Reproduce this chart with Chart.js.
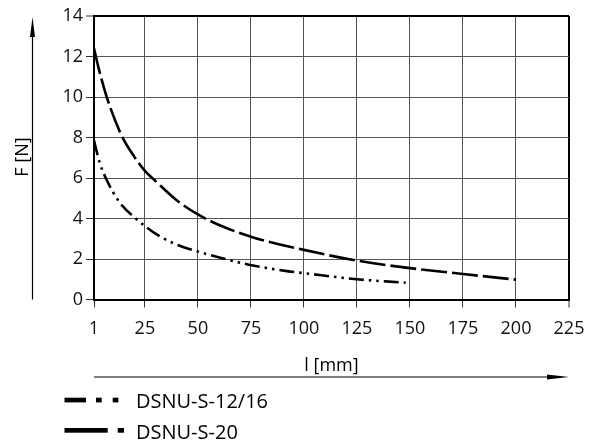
<!DOCTYPE html>
<html>
<head>
<meta charset="utf-8">
<script src="https://cdn.jsdelivr.net/npm/chart.js@4.4.1/dist/chart.umd.min.js"></script>
<style>
  html, body { margin: 0; padding: 0; background: #fff; }
  #wrap { width: 592px; height: 443px; }
</style>
</head>
<body>
<div id="wrap"><canvas id="forceChart" width="592" height="443"></canvas></div>
<script>
// values
const seriesNames = ["DSNU-S-12/16", "DSNU-S-20"];

const len12 = [1, 2.3, 3.8, 7, 12.9, 22.4, 30, 38, 49, 63, 74, 92, 100, 125, 148];
const force12 = [7.85, 7.3, 6.72, 5.9, 4.82, 3.85, 3.25, 2.8, 2.4, 2.0, 1.72, 1.4, 1.3, 1.0, 0.83];

const len20 = [1, 3, 7, 14, 20, 25, 30, 40, 50, 60, 75, 100, 125, 150, 175, 200];
const force20 = [12.4, 11.5, 10.0, 8.1, 7.05, 6.35, 5.85, 4.9, 4.2, 3.68, 3.1, 2.45, 1.92, 1.55, 1.26, 0.98];

const xTicks = [1, 25, 50, 75, 100, 125, 150, 175, 200, 225];
const yTicks = [0, 2, 4, 6, 8, 10, 12, 14];

const xTitle = "l [mm]";
const yTitle = "F [N]";

const FONT = "'Open Sans', 'Noto Sans', sans-serif";

const toPoints = (xs, ys) => xs.map((x, i) => ({ x: x, y: ys[i] }));

// arrows, axis titles and the legend underneath
const decorations = {
    id: "decorations",
    afterDraw(chart) {
        const ctx = chart.ctx;
        const area = chart.chartArea;
        ctx.save();
        ctx.fillStyle = "#000";
        ctx.strokeStyle = "#000";

        // vertical arrow
        ctx.lineWidth = 1.2;
        ctx.beginPath();
        ctx.moveTo(32.5, area.bottom);
        ctx.lineTo(32.5, 34);
        ctx.stroke();
        ctx.beginPath();
        ctx.moveTo(32.5, 17);
        ctx.lineTo(35, 37);
        ctx.lineTo(30, 37);
        ctx.closePath();
        ctx.fill();

        // horizontal arrow
        ctx.beginPath();
        ctx.moveTo(area.left, 377);
        ctx.lineTo(area.right - 18, 377);
        ctx.stroke();
        ctx.beginPath();
        ctx.moveTo(area.right, 377);
        ctx.lineTo(area.right - 22, 374.5);
        ctx.lineTo(area.right - 22, 379.5);
        ctx.closePath();
        ctx.fill();

        // titles
        ctx.font = "18px " + FONT;
        ctx.textAlign = "center";
        ctx.textBaseline = "middle";
        ctx.fillText(xTitle, (area.left + area.right) / 2, 366);
        ctx.save();
        ctx.translate(23, 157);
        ctx.rotate(-Math.PI / 2);
        ctx.fillText(yTitle, 0, 0);
        ctx.restore();

        // legend samples
        ctx.fillRect(64.5, 397.7, 21.5, 4.7);
        ctx.fillRect(96, 397.7, 5.7, 4.7);
        ctx.fillRect(112.7, 397.7, 5.7, 4.7);

        ctx.fillRect(64.5, 428, 43.2, 4.7);
        ctx.fillRect(117.7, 428, 6.3, 4.7);

        ctx.font = "20px " + FONT;
        ctx.textAlign = "left";
        ctx.fillText(seriesNames[0], 136, 402);
        ctx.fillText(seriesNames[1], 136, 433);
        ctx.restore();
    }
};

const edgeWidth = (ctx, max) => (ctx.tick && ctx.tick.value === max ? 2 : 1);
const edgeColor = (ctx, max) => (ctx.tick && ctx.tick.value === max ? "#000" : "#555");

new Chart(document.getElementById("forceChart"), {
    type: "line",
    data: {
        datasets: [
            {
                label: seriesNames[0],
                data: toPoints(len12, force12),
                borderColor: "#000",
                borderWidth: 2.6,
                borderDash: [15, 5, 2.5, 5, 2.5, 5],
                pointRadius: 0,
                cubicInterpolationMode: "monotone",
                fill: false
            },
            {
                label: seriesNames[1],
                data: toPoints(len20, force20),
                borderColor: "#000",
                borderWidth: 2.6,
                borderDash: [26, 5],
                pointRadius: 0,
                cubicInterpolationMode: "monotone",
                fill: false
            }
        ]
    },
    options: {
        responsive: false,
        animation: false,
        devicePixelRatio: 1,
        layout: { padding: { left: 0, right: 23, top: 16, bottom: 0 } },
        plugins: {
            legend: { display: false },
            tooltip: { enabled: false }
        },
        scales: {
            x: {
                type: "linear",
                min: 1,
                max: 225,
                afterBuildTicks: (scale) => { scale.ticks = xTicks.map(v => ({ value: v })); },
                afterFit: (scale) => {
                    scale.height = 143.5;
                    // the plot edges are set by layout.padding, not by label overflow
                    scale.paddingLeft = 0;
                    scale.paddingRight = 0;
                },
                border: { display: true, color: "#000", width: 2 },
                grid: {
                    color: (ctx) => edgeColor(ctx, 225),
                    lineWidth: (ctx) => edgeWidth(ctx, 225),
                    tickColor: "#333",
                    tickWidth: 1,
                    tickLength: 8
                },
                ticks: {
                    color: "#111",
                    padding: 11,
                    maxRotation: 0,
                    font: { family: FONT, size: 18 }
                }
            },
            y: {
                min: 0,
                max: 14,
                afterBuildTicks: (scale) => { scale.ticks = yTicks.map(v => ({ value: v })); },
                afterFit: (scale) => { scale.width = 94; },
                border: { display: true, color: "#000", width: 2 },
                grid: {
                    color: (ctx) => edgeColor(ctx, 14),
                    lineWidth: (ctx) => edgeWidth(ctx, 14),
                    tickColor: "#333",
                    tickWidth: 1,
                    tickLength: 8
                },
                ticks: {
                    color: "#111",
                    padding: 3,
                    font: { family: FONT, size: 18 }
                }
            }
        }
    },
    plugins: [decorations]
});
</script>
</body>
</html>
